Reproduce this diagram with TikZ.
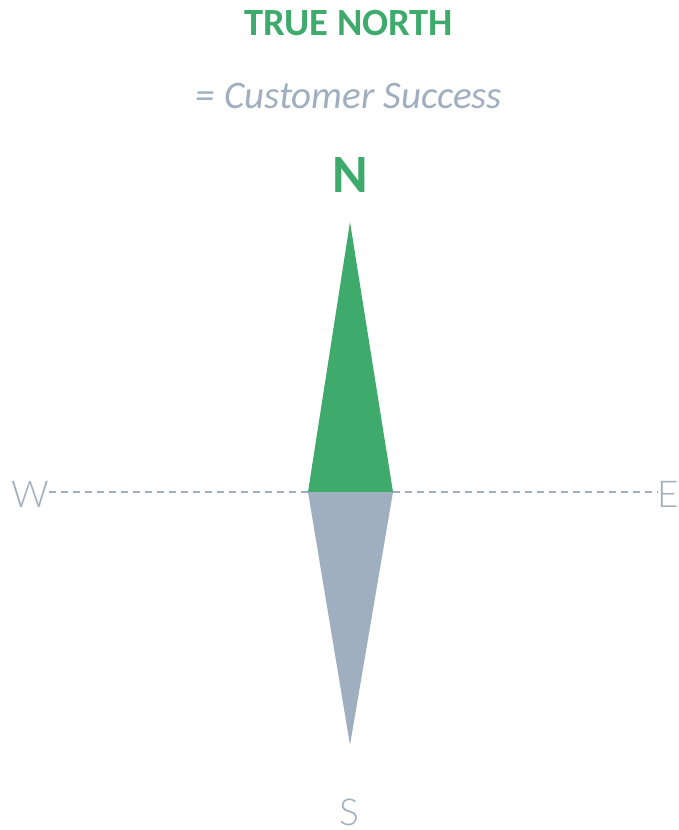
\documentclass[tikz,border=0pt]{standalone}
\usepackage{fontspec}
\setmainfont{Carlito}
\newfontfamily\thinfont{Lato Light}
\definecolor{tngreen}{HTML}{3EAB6C}
\definecolor{tngray}{HTML}{A0AFBF}
\begin{document}
\begin{tikzpicture}[x=1pt,y=-1pt,
  txt/.style={inner sep=0pt,anchor=base},
  compass/.style={txt,text=tngray,font=\thinfont\fontsize{37}{39}\selectfont}]
\useasboundingbox (0,0) rectangle (679,830);
\node[txt,text=tngreen,font=\bfseries\fontsize{38.5}{40}\selectfont] (title) at (349,35) {TRUE NORTH};
\node[txt,text=tngray,font=\itshape\fontsize{39}{41}\selectfont] (sub) at (349,108) {= Customer Success};
\node[txt,text=tngreen,font=\bfseries\fontsize{54}{56}\selectfont] (N) at (350,192) {N};
\node[compass] (W) at (30,507) {W};
\node[compass] (E) at (668,507) {E};
\node[compass] (S) at (349,825) {S};
\coordinate (top) at (350,222);
\coordinate (left) at (308,492);
\coordinate (right) at (393,492);
\coordinate (bottom) at (350,745);
\draw[tngray,line width=1.6pt,dash pattern=on 7pt off 5pt] (W.east |- left) -- (left);
\draw[tngray,line width=1.6pt,dash pattern=on 7pt off 5pt] (right) -- (E.west |- right);
\fill[tngreen] (top) -- (right) -- (left) -- cycle;
\fill[tngray] (left) -- (right) -- (bottom) -- cycle;
\end{tikzpicture}
\end{document}
